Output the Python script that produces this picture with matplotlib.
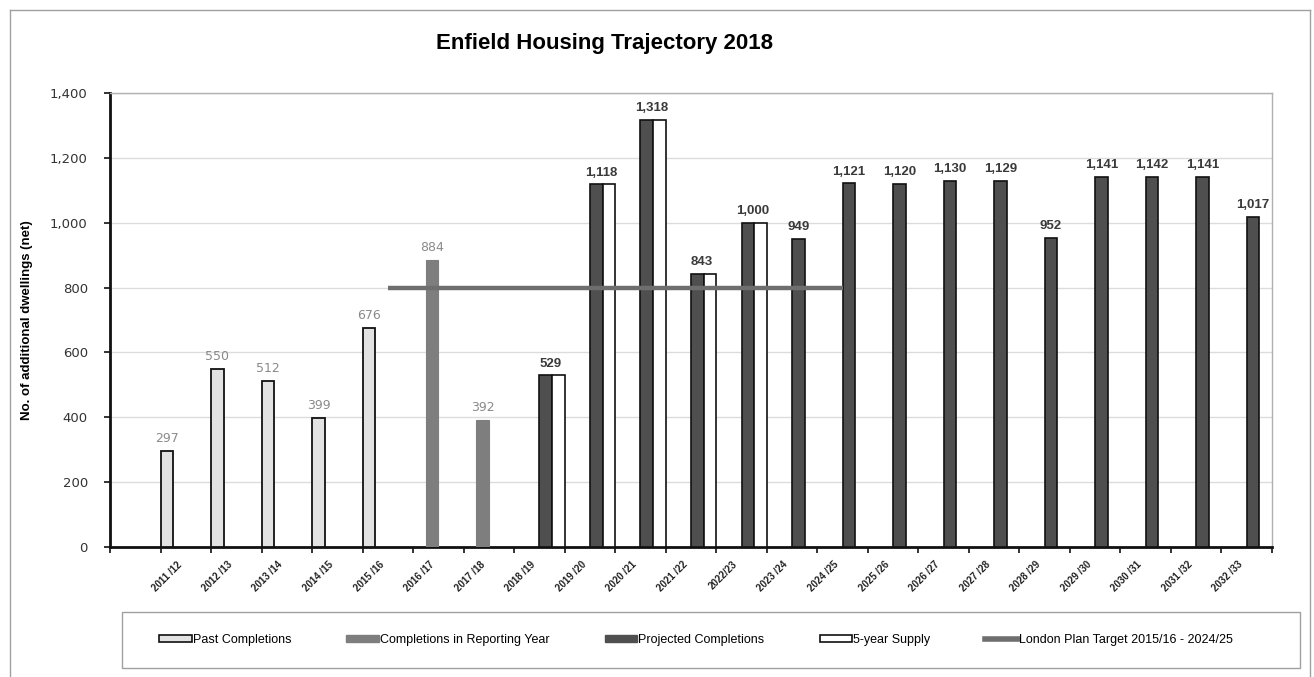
import numpy as np
import matplotlib
matplotlib.use("Agg")
import matplotlib.pyplot as plt
from matplotlib.patches import Rectangle
from matplotlib.lines import Line2D

plt.rcParams['font.family'] = ['Liberation Sans', 'DejaVu Sans']

categories = ["2011 /12", "2012 /13", "2013 /14", "2014 /15", "2015 /16", "2016 /17",
              "2017 /18", "2018 /19", "2019 /20", "2020 /21", "2021 /22", "2022/23",
              "2023 /24", "2024 /25", "2025 /26", "2026 /27", "2027 /28", "2028 /29",
              "2029 /30", "2030 /31", "2031 /32", "2032 /33"]
nan = np.nan
past = [297, 550, 512, 399, 676, nan, nan, nan, nan, nan, nan, nan,
        nan, nan, nan, nan, nan, nan, nan, nan, nan, nan]
reporting = [nan, nan, nan, nan, nan, 884, 392, nan, nan, nan, nan, nan,
             nan, nan, nan, nan, nan, nan, nan, nan, nan, nan]
projected = [nan, nan, nan, nan, nan, nan, nan, 529, 1118, 1318, 843, 1000,
             949, 1121, 1120, 1130, 1129, 952, 1141, 1142, 1141, 1017]
supply = [nan, nan, nan, nan, nan, nan, nan, 529, 1118, 1318, 843, 1000,
          nan, nan, nan, nan, nan, nan, nan, nan, nan, nan]
target = [nan, nan, nan, nan, 800, 800, 800, 800, 800, 800, 800, 800,
          800, 800, nan, nan, nan, nan, nan, nan, nan, nan]
yticks = [0, 200, 400, 600, 800, 1000, 1200, 1400]

W, H = 1314, 677
fig = plt.figure(figsize=(W / 100, H / 100), dpi=100)
ax = fig.add_axes([110 / W, 1 - 547 / H, (1272 - 110) / W, (547 - 93) / H])

n = len(categories)
start = np.arange(n) + 1.0  # first category slot left empty
bw = 0.25

past_a = np.array(past, float)
rep_a = np.array(reporting, float)
proj_a = np.array(projected, float)
sup_a = np.array(supply, float)
tgt_a = np.array(target, float)

ax.bar(start + 0.0, past_a, width=bw, align='edge', color='#e2e2e2', edgecolor='#111111', linewidth=1.3, zorder=3)
ax.bar(start + 0.25, rep_a, width=bw, align='edge', color='#7e7e7e', edgecolor='#7e7e7e', linewidth=0.8, zorder=3)
ax.bar(start + 0.5, proj_a, width=bw, align='edge', color='#4f4f4f', edgecolor='#111111', linewidth=1.2, zorder=3)
ax.bar(start + 0.75, sup_a, width=bw, align='edge', color='white', edgecolor='#111111', linewidth=1.2, zorder=3)
ax.plot(start + 0.5, tgt_a, color='#6e6e6e', linewidth=3.2, zorder=4, solid_capstyle='butt')

def fmt(v):
    return f"{int(v):,}"

for i in range(n):
    if not np.isnan(past_a[i]):
        ax.text(start[i] + bw / 2, past_a[i] + 18, fmt(past_a[i]), ha='center', va='bottom',
                fontsize=9, color='#8a8a8a', family='DejaVu Sans', zorder=5)
    if not np.isnan(rep_a[i]):
        ax.text(start[i] + 0.25 + bw / 2, rep_a[i] + 18, fmt(rep_a[i]), ha='center', va='bottom',
                fontsize=9, color='#8a8a8a', family='DejaVu Sans', zorder=5)
    if not np.isnan(proj_a[i]):
        xc = start[i] + 0.5 + bw / 2
        if not np.isnan(sup_a[i]):
            xc = start[i] + 0.72
        ax.text(xc, proj_a[i] + 18, fmt(proj_a[i]), ha='center', va='bottom',
                fontsize=9.5, color='#3a3a3a', fontweight='bold', zorder=5)

ax.set_xlim(0, n + 1)
ax.set_ylim(0, 1400)
ax.set_yticks(yticks)
ax.set_yticklabels([f"{v:,}" for v in yticks], fontsize=9.5, color='#333333', family='DejaVu Sans')
ax.set_xticks(np.arange(0, n + 2), minor=True)
ax.set_xticks(start + 0.32)
ax.set_xticklabels(categories, rotation=45, ha='right', rotation_mode='anchor',
                   fontsize=7, fontweight='bold', color='#222222')
ax.tick_params(axis='x', which='major', length=0, pad=9)
ax.tick_params(axis='x', which='minor', length=4, width=1.2, direction='out', color='#111111')
ax.tick_params(axis='y', length=4, width=1.2, direction='out', color='#111111', pad=12)
ax.grid(axis='y', color='#dcdcdc', linewidth=1.0, zorder=0)
ax.set_axisbelow(True)
for s in ['left', 'bottom']:
    ax.spines[s].set_linewidth(2.0)
    ax.spines[s].set_color('#111111')
for s in ['top', 'right']:
    ax.spines[s].set_linewidth(1.0)
    ax.spines[s].set_color('#b0b0b0')

ax.set_ylabel("No. of additional dwellings (net)", fontsize=9.5, fontweight='bold', labelpad=12)
fig.text(605 / W, 1 - 43 / H, "Enfield Housing Trajectory 2018", ha='center', va='center',
         fontsize=16, fontweight='bold')

# outer chart frame
fig.add_artist(Line2D([10 / W, 10 / W], [0, 1 - 10 / H], transform=fig.transFigure, color='#a0a0a0', lw=1))
fig.add_artist(Line2D([10 / W, 1310 / W], [1 - 10 / H, 1 - 10 / H], transform=fig.transFigure, color='#a0a0a0', lw=1))
fig.add_artist(Line2D([1310 / W, 1310 / W], [0, 1 - 10 / H], transform=fig.transFigure, color='#a0a0a0', lw=1))

# legend frame
fig.add_artist(Rectangle((122 / W, 1 - 668 / H), (1300 - 122) / W, (668 - 612) / H,
                         transform=fig.transFigure, fill=False, edgecolor='#a0a0a0', lw=1))

handles = [
    Rectangle((0, 0), 1, 1, facecolor='#e2e2e2', edgecolor='#111111', linewidth=1.2),
    Rectangle((0, 0), 1, 1, facecolor='#7e7e7e', edgecolor='#7e7e7e'),
    Rectangle((0, 0), 1, 1, facecolor='#4f4f4f', edgecolor='#4f4f4f'),
    Rectangle((0, 0), 1, 1, facecolor='white', edgecolor='#111111', linewidth=1.2),
    Line2D([0], [0], color='#6e6e6e', linewidth=4),
]
labels = ["Past Completions", "Completions in Reporting Year", "Projected Completions",
          "5-year Supply", "London Plan Target 2015/16 - 2024/25"]
leg = fig.legend(handles, labels, loc='center',
                 bbox_to_anchor=(696 / W, 1 - 640 / H),
                 ncol=5, fontsize=9, frameon=False,
                 handlelength=2.6, handleheight=0.45, handletextpad=0.1, columnspacing=4.4)

fig.savefig("out.png", dpi=100)
